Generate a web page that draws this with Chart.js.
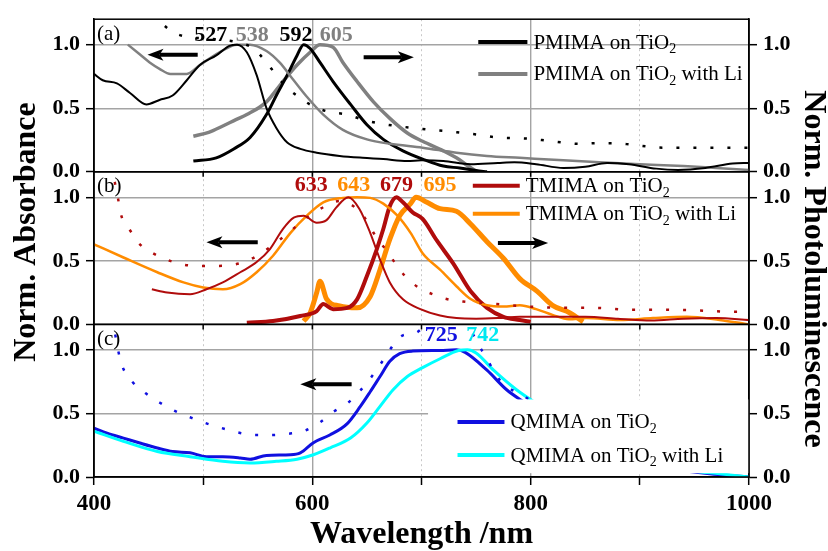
<!DOCTYPE html>
<html>
<head>
<meta charset="utf-8">
<script src="https://cdn.jsdelivr.net/npm/chart.js@4.4.1/dist/chart.umd.min.js"></script>
<style>
  html, body { margin: 0; padding: 0; background: #fff; }
  #wrap { width: 828px; height: 551px; }
</style>
</head>
<body>
<div id="wrap"><canvas id="absPlChart" width="828" height="551"></canvas></div>
<script>
// (a) PMIMA
const pmimaAbsNm = [400, 408, 421, 433, 448, 460, 472, 485, 497, 512, 524, 531, 540, 549, 558, 567, 577, 589, 604, 625, 646, 665, 687, 700, 720, 745, 770, 785, 805, 830, 850, 870, 890, 915, 935, 960, 985, 1000];
const pmimaAbs = [0.77, 0.72, 0.695, 0.62, 0.53, 0.565, 0.60, 0.72, 0.84, 0.915, 0.99, 1.0, 0.94, 0.76, 0.5, 0.345, 0.23, 0.18, 0.15, 0.125, 0.11, 0.10, 0.085, 0.09, 0.085, 0.06, 0.07, 0.075, 0.06, 0.03, 0.04, 0.07, 0.06, 0.025, 0.015, 0.03, 0.065, 0.07];
const pmimaLiAbsNm = [431, 441, 451, 460, 470, 485, 497, 515, 531, 543, 558, 570, 582, 595, 610, 628, 650, 671, 701, 732, 760, 790, 830, 863, 900, 940, 970, 1000];
const pmimaLiAbs = [1.0, 0.93, 0.86, 0.81, 0.77, 0.77, 0.84, 0.94, 1.0, 1.0, 0.95, 0.86, 0.73, 0.59, 0.45, 0.33, 0.255, 0.22, 0.19, 0.15, 0.125, 0.11, 0.09, 0.075, 0.06, 0.045, 0.03, 0.015];
const pmimaPlNm = [491, 512, 528, 543, 558, 567, 577, 586, 592, 598, 607, 619, 635, 650, 665, 683, 701, 720, 735, 750, 760];
const pmimaPl = [0.085, 0.11, 0.18, 0.27, 0.45, 0.6, 0.76, 0.915, 1.0, 0.97, 0.86, 0.71, 0.53, 0.37, 0.255, 0.165, 0.10, 0.045, 0.03, 0.01, 0.0];
const pmimaLiPlNm = [491, 505, 518, 530, 540, 558, 573, 586, 598, 607, 619, 628, 641, 656, 671, 687, 701, 720, 732, 742, 751];
const pmimaLiPl = [0.28, 0.31, 0.36, 0.41, 0.45, 0.55, 0.71, 0.84, 0.94, 1.0, 0.98, 0.86, 0.71, 0.55, 0.42, 0.305, 0.24, 0.165, 0.11, 0.05, 0.0];
const pmimaSolNm = [455, 460, 472, 486, 500, 515, 530, 546, 558, 567, 577, 589, 602, 616, 632, 646, 662, 677, 692, 708, 723, 738, 754, 769, 784, 799, 815, 830, 845, 861, 875, 891, 906, 921, 952, 983, 1000];
const pmimaSol = [1.25, 1.19, 1.10, 1.06, 1.05, 1.04, 1.02, 0.97, 0.86, 0.76, 0.66, 0.58, 0.51, 0.47, 0.45, 0.41, 0.38, 0.36, 0.345, 0.33, 0.32, 0.305, 0.29, 0.27, 0.265, 0.26, 0.245, 0.23, 0.22, 0.225, 0.225, 0.215, 0.2, 0.19, 0.19, 0.19, 0.19];

// (b) TMIMA
const tmimaAbsNm = [453, 467, 488, 503, 518, 534, 549, 561, 573, 583, 592, 604, 613, 622, 633, 643, 653, 662, 671, 683, 699, 717, 732, 750, 770, 790, 820, 850, 880, 910, 940, 970, 1000];
const tmimaAbs = [0.276, 0.25, 0.237, 0.276, 0.33, 0.41, 0.49, 0.59, 0.75, 0.84, 0.855, 0.80, 0.82, 0.92, 1.0, 0.91, 0.72, 0.51, 0.33, 0.197, 0.12, 0.07, 0.05, 0.045, 0.05, 0.06, 0.06, 0.06, 0.045, 0.03, 0.045, 0.05, 0.035];
const tmimaLiAbsNm = [400, 427, 458, 482, 500, 518, 534, 549, 564, 580, 595, 610, 628, 641, 653, 665, 678, 690, 701, 717, 732, 745, 760, 775, 790, 805, 820, 835, 851, 882, 912, 943, 973, 1000];
const tmimaLiAbs = [0.63, 0.526, 0.41, 0.33, 0.29, 0.276, 0.316, 0.41, 0.54, 0.72, 0.855, 0.96, 0.995, 1.0, 0.995, 0.95, 0.855, 0.72, 0.56, 0.43, 0.30, 0.2, 0.15, 0.14, 0.15, 0.12, 0.075, 0.04, 0.05, 0.035, 0.05, 0.06, 0.035, 0.0];
const tmimaPlNm = [540, 564, 589, 604, 610, 619, 632, 641, 650, 659, 665, 671, 677, 683, 692, 701, 714, 729, 745, 760, 775, 790, 800];
const tmimaPl = [0.013, 0.026, 0.066, 0.105, 0.16, 0.12, 0.13, 0.197, 0.38, 0.59, 0.75, 0.93, 1.0, 0.96, 0.88, 0.83, 0.66, 0.48, 0.26, 0.13, 0.06, 0.035, 0.02];
const tmimaLiPlNm = [592, 598, 604, 607, 613, 625, 641, 653, 662, 671, 680, 690, 695, 705, 717, 732, 745, 760, 775, 790, 806, 820, 836, 848];
const tmimaLiPl = [0.026, 0.09, 0.25, 0.34, 0.2, 0.145, 0.13, 0.22, 0.43, 0.67, 0.855, 0.95, 1.0, 0.96, 0.91, 0.89, 0.79, 0.65, 0.52, 0.36, 0.26, 0.15, 0.09, 0.02];
const tmimaSolNm = [415, 419, 422, 425, 433, 442, 454, 468, 482, 497, 512, 528, 543, 560, 578, 595, 612, 625, 634, 647, 659, 668, 676, 685, 699, 708, 723, 738, 769, 799, 830, 860, 891, 921, 952, 982, 1000];
const tmimaSol = [1.25, 1.12, 0.99, 0.855, 0.74, 0.63, 0.56, 0.505, 0.47, 0.46, 0.46, 0.47, 0.51, 0.6, 0.72, 0.84, 0.93, 0.97, 0.95, 0.85, 0.68, 0.58, 0.48, 0.38, 0.28, 0.245, 0.2, 0.18, 0.16, 0.14, 0.13, 0.13, 0.115, 0.115, 0.11, 0.10, 0.10];

// (c) QMIMA
const qmimaAbsNm = [400, 412, 427, 442, 458, 472, 488, 503, 518, 534, 543, 558, 580, 589, 601, 616, 632, 644, 653, 662, 671, 680, 692, 717, 732, 740, 760, 778, 792, 820, 850, 880, 910, 940, 964, 1000];
const qmimaAbs = [0.385, 0.345, 0.306, 0.267, 0.228, 0.20, 0.19, 0.16, 0.16, 0.15, 0.14, 0.17, 0.175, 0.19, 0.27, 0.33, 0.42, 0.555, 0.67, 0.79, 0.91, 0.97, 0.99, 0.995, 1.0, 0.98, 0.84, 0.686, 0.60, 0.45, 0.3, 0.17, 0.09, 0.05, 0.026, 0.0];
const qmimaLiAbsNm = [400, 427, 458, 488, 518, 543, 567, 586, 601, 616, 635, 650, 662, 674, 687, 701, 717, 734, 742, 750, 766, 787, 804, 830, 860, 890, 920, 950, 973, 1000];
const qmimaLiAbs = [0.36, 0.28, 0.20, 0.16, 0.123, 0.11, 0.123, 0.14, 0.175, 0.228, 0.306, 0.424, 0.555, 0.686, 0.79, 0.86, 0.93, 0.995, 1.0, 0.975, 0.84, 0.686, 0.586, 0.45, 0.3, 0.17, 0.09, 0.045, 0.026, 0.0];
const qmimaSolNm = [416, 419, 422, 426, 435, 447, 460, 474, 488, 502, 517, 532, 547, 563, 578, 593, 607, 619, 633, 644, 654, 663, 671, 682, 694, 705, 715, 735, 755, 773, 795, 830, 870, 920, 1000];
const qmimaSol = [1.25, 1.14, 1.0, 0.87, 0.75, 0.66, 0.586, 0.52, 0.47, 0.424, 0.385, 0.35, 0.33, 0.33, 0.34, 0.364, 0.43, 0.51, 0.586, 0.68, 0.785, 0.895, 1.0, 1.11, 1.13, 1.2, 1.25, 1.25, 1.0, 0.75, 0.63, 0.4, 0.25, 0.15, 0.1];

const peakLabels = [
    { axis: 'ya', nm: 507, v: 1.07, text: '527', color: '#000000' },
    { axis: 'ya', nm: 545, v: 1.07, text: '538', color: '#808080' },
    { axis: 'ya', nm: 585, v: 1.07, text: '592', color: '#000000' },
    { axis: 'ya', nm: 622, v: 1.07, text: '605', color: '#808080' },
    { axis: 'yb', nm: 599, v: 1.095, text: '633', color: '#b00c0c' },
    { axis: 'yb', nm: 638, v: 1.095, text: '643', color: '#ff8c00' },
    { axis: 'yb', nm: 677, v: 1.095, text: '679', color: '#b00c0c' },
    { axis: 'yb', nm: 717, v: 1.095, text: '695', color: '#ff8c00' },
    { axis: 'yc', nm: 718, v: 1.118, text: '725', color: '#1010e0' },
    { axis: 'yc', nm: 756, v: 1.118, text: '742', color: '#00e8f0' },
];

// arrows: tail -> head, in nm, at a panel value
const arrows = [
    { axis: 'ya', from: 495, to: 449, v: 0.92 },
    { axis: 'ya', from: 647, to: 693, v: 0.90 },
    { axis: 'yb', from: 550, to: 503, v: 0.646 },
    { axis: 'yb', from: 770, to: 816, v: 0.64 },
    { axis: 'yc', from: 636, to: 589, v: 0.73 },
];

const legends = [
    { axis: 'ya', from: 752, to: 797, rows: [1.02, 0.77], labels: ['PMIMA on TiO_2', 'PMIMA on TiO_2 with Li'] },
    { axis: 'yb', from: 747, to: 790, rows: [1.09, 0.87], labels: ['TMIMA on TiO_2', 'TMIMA on TiO_2 with Li'] },
    { axis: 'yc', from: 733, to: 776, rows: [0.433, 0.173], labels: ['QMIMA on TiO_2', 'QMIMA on TiO_2 with Li'], box: [706, 1000, 0.61, 0.03] },
];

const panelNames = [['ya', '(a)'], ['yb', '(b)'], ['yc', '(c)']];
const serif = "'Liberation Serif', 'Times New Roman', serif";

function pairs(nm, values) {
    return nm.map((x, i) => ({ x, y: values[i] }));
}

function lineSet(label, nm, values, axis, color, width, dotted) {
    return {
        label,
        data: pairs(nm, values),
        yAxisID: axis,
        borderColor: color,
        backgroundColor: color,
        borderWidth: width,
        borderDash: dotted ? [3, 14] : [],
        borderCapStyle: 'butt',
        pointRadius: 0,
        cubicInterpolationMode: 'monotone',
        fill: false,
    };
}

const datasets = [
    lineSet('PMIMA solution', pmimaSolNm, pmimaSol, 'ya', '#000000', 2.5, true),
    lineSet('PMIMA on TiO_2', pmimaAbsNm, pmimaAbs, 'ya', '#000000', 2),
    lineSet('PMIMA on TiO_2 with Li', pmimaLiAbsNm, pmimaLiAbs, 'ya', '#808080', 2.5),
    lineSet('PMIMA PL', pmimaPlNm, pmimaPl, 'ya', '#000000', 3),
    lineSet('PMIMA Li PL', pmimaLiPlNm, pmimaLiPl, 'ya', '#808080', 3.5),
    lineSet('TMIMA solution', tmimaSolNm, tmimaSol, 'yb', '#b00c0c', 2.5, true),
    lineSet('TMIMA on TiO_2', tmimaAbsNm, tmimaAbs, 'yb', '#b00c0c', 2),
    lineSet('TMIMA on TiO_2 with Li', tmimaLiAbsNm, tmimaLiAbs, 'yb', '#ff8c00', 2.5),
    lineSet('TMIMA PL', tmimaPlNm, tmimaPl, 'yb', '#b00c0c', 4),
    lineSet('TMIMA Li PL', tmimaLiPlNm, tmimaLiPl, 'yb', '#ff8c00', 5),
    lineSet('QMIMA solution', qmimaSolNm, qmimaSol, 'yc', '#1010e0', 2.5, true),
    lineSet('QMIMA on TiO_2 with Li', qmimaLiAbsNm, qmimaLiAbs, 'yc', '#00ffff', 3),
    lineSet('QMIMA on TiO_2', qmimaAbsNm, qmimaAbs, 'yc', '#1010e0', 3),
];

function isMajor(v) { return v === 0.5 || v === 1; }
function isMinor(v) { return v === 0.25 || v === 0.75; }

function panelAxis(position, weight, ownGrid) {
    return {
        type: 'linear',
        position,
        stack: position,
        stackWeight: 1,
        weight,
        min: 0,
        max: 1.2,
        afterFit(scale) { scale.width = position === 'left' ? 94 : 79; },
        ticks: {
            stepSize: 0.25,
            includeBounds: false,
            padding: 6,
            color: '#000',
            font: { family: serif, size: 22, weight: 'bold' },
            callback: v => (v === 0 || isMajor(v)) ? v.toFixed(1) : '',
        },
        grid: {
            drawOnChartArea: ownGrid,
            color: c => !c.tick ? 'rgba(0,0,0,0)' : isMajor(c.tick.value) ? '#a4a4a4' : isMinor(c.tick.value) ? '#c8c8c8' : 'rgba(0,0,0,0)',
            lineWidth: c => c.tick && isMajor(c.tick.value) ? 1.4 : 1,
            tickColor: '#000',
            tickLength: 8,
            tickWidth: 1.5,
        },
        border: {
            display: true,
            color: '#000',
            width: 1.5,
            dash: c => c.tick && isMinor(c.tick.value) ? [2, 3] : [],
        },
    };
}

// text with "_x" as subscript
function drawRich(ctx, str, x, y, size) {
    const parts = str.split(/_(.)/);
    let cx = x;
    parts.forEach((part, i) => {
        const sub = i % 2 === 1;
        ctx.font = `${sub ? Math.round(size * 0.65) : size}px ${serif}`;
        ctx.fillText(part, cx, sub ? y + size * 0.3 : y);
        cx += ctx.measureText(part).width;
    });
}

const decorPlugin = {
    id: 'decor',
    beforeDatasetDraw(chart, args) {
        const ys = args.meta.yScale;
        const area = chart.chartArea;
        const ctx = chart.ctx;
        ctx.save();
        ctx.beginPath();
        ctx.rect(area.left, ys.top, area.right - area.left, ys.bottom - ys.top + 1.5);
        ctx.clip();
    },
    afterDatasetDraw(chart) {
        chart.ctx.restore();
    },
    afterDatasetsDraw(chart) {
        const ctx = chart.ctx;
        const xs = chart.scales.x;
        const area = chart.chartArea;
        ctx.save();

        legends.forEach(lg => {
            const ys = chart.scales[lg.axis];
            if (lg.box) {
                const [n0, n1, v0, v1] = lg.box;
                ctx.fillStyle = '#ffffff';
                const bx = xs.getPixelForValue(n0), by = ys.getPixelForValue(v0);
                ctx.fillRect(bx, by, xs.getPixelForValue(n1) - bx, ys.getPixelForValue(v1) - by);
            }
            lg.labels.forEach((label, i) => {
                const ds = chart.data.datasets.find(d => d.label === label);
                const y = ys.getPixelForValue(lg.rows[i]);
                const x0 = xs.getPixelForValue(lg.from);
                const x1 = xs.getPixelForValue(lg.to);
                ctx.strokeStyle = ds.borderColor;
                ctx.lineWidth = 4;
                ctx.setLineDash([]);
                ctx.beginPath();
                ctx.moveTo(x0, y);
                ctx.lineTo(x1, y);
                ctx.stroke();
                ctx.fillStyle = '#000';
                ctx.textAlign = 'left';
                ctx.textBaseline = 'middle';
                drawRich(ctx, label, x1 + 6, y + 1, 21);
            });
        });

        ctx.textAlign = 'center';
        ctx.textBaseline = 'middle';
        ctx.font = `bold 22px ${serif}`;
        peakLabels.forEach(p => {
            ctx.fillStyle = p.color;
            ctx.fillText(p.text, xs.getPixelForValue(p.nm), chart.scales[p.axis].getPixelForValue(p.v));
        });

        ctx.fillStyle = '#000';
        arrows.forEach(a => {
            const ys = chart.scales[a.axis];
            const y = ys.getPixelForValue(a.v);
            const x0 = xs.getPixelForValue(a.from);
            const x1 = xs.getPixelForValue(a.to);
            const dir = Math.sign(x1 - x0);
            ctx.strokeStyle = '#000';
            ctx.lineWidth = 4;
            ctx.beginPath();
            ctx.moveTo(x0, y);
            ctx.lineTo(x1 - dir * 12, y);
            ctx.stroke();
            ctx.beginPath();
            ctx.moveTo(x1, y);
            ctx.lineTo(x1 - dir * 16, y - 6);
            ctx.lineTo(x1 - dir * 12, y);
            ctx.lineTo(x1 - dir * 16, y + 6);
            ctx.closePath();
            ctx.fill();
        });

        ctx.textAlign = 'left';
        ctx.font = `21px ${serif}`;
        panelNames.forEach(([axis, name]) => {
            ctx.fillText(name, area.left + 3, chart.scales[axis].top + 15);
        });

        // panel frames and the small ticks on the inner separators
        ctx.strokeStyle = '#000';
        ctx.lineWidth = 1.5;
        panelNames.forEach(([axis], i) => {
            const ys = chart.scales[axis];
            ctx.strokeRect(area.left, ys.top, area.right - area.left, ys.bottom - ys.top);
            if (i > 0) {
                [500, 600, 700, 800, 900].forEach(nm => {
                    const px = xs.getPixelForValue(nm);
                    ctx.beginPath();
                    ctx.moveTo(px, ys.top);
                    ctx.lineTo(px, ys.top + 5);
                    ctx.stroke();
                });
            }
        });

        ctx.font = `bold 32px ${serif}`;
        ctx.textBaseline = 'alphabetic';
        ctx.textAlign = 'center';
        ctx.fillText('Wavelength /nm', (area.left + area.right) / 2, 543);
        ctx.save();
        ctx.translate(35, 232);
        ctx.rotate(-Math.PI / 2);
        ctx.fillText('Norm. Absorbance', 0, 0);
        ctx.restore();
        ctx.save();
        ctx.translate(805, 269);
        ctx.rotate(Math.PI / 2);
        ctx.fillText('Norm. Photoluminescence', 0, 0);
        ctx.restore();

        ctx.restore();
    },
};

new Chart(document.getElementById('absPlChart'), {
    type: 'line',
    data: { datasets },
    options: {
        responsive: false,
        animation: false,
        devicePixelRatio: 1,
        layout: { padding: { top: 17, left: 0, right: 0, bottom: 0 } },
        plugins: {
            legend: { display: false },
            tooltip: { enabled: false },
        },
        scales: {
            x: {
                type: 'linear',
                min: 400,
                max: 1000,
                afterFit(scale) { scale.height = 74; },
                ticks: {
                    stepSize: 100,
                    autoSkip: false,
                    maxRotation: 0,
                    padding: 5,
                    color: '#000',
                    font: { family: serif, size: 23, weight: 'bold' },
                    callback: v => v % 200 === 0 ? String(v) : '',
                },
                grid: {
                    color: c => !c.tick ? 'rgba(0,0,0,0)' : (c.tick.value === 600 || c.tick.value === 800) ? '#a4a4a4' : (c.tick.value % 200 === 100) ? '#c8c8c8' : 'rgba(0,0,0,0)',
                    lineWidth: c => c.tick && c.tick.value % 200 === 0 ? 1.4 : 1,
                    tickColor: '#000',
                    tickLength: 8,
                    tickWidth: 1.5,
                },
                border: {
                    display: true,
                    color: '#000',
                    width: 1.5,
                    dash: c => c.tick && c.tick.value % 200 === 100 ? [2, 3] : [],
                },
            },
            ya: panelAxis('left', 3, true),
            yb: panelAxis('left', 2, true),
            yc: panelAxis('left', 1, true),
            ra: panelAxis('right', 1, false),
            rb: panelAxis('right', 2, false),
            rc: panelAxis('right', 3, false),
        },
    },
    plugins: [decorPlugin],
});
</script>
</body>
</html>
